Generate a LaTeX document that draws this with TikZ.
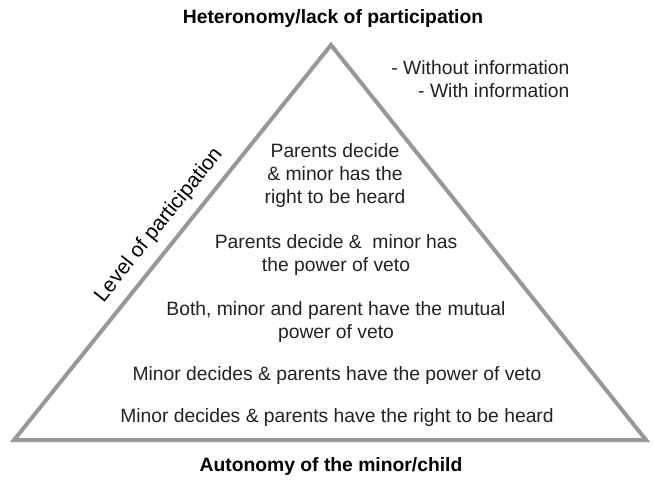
\documentclass[tikz,border=0pt]{standalone}
\usepackage{fontspec}
\setmainfont{Liberation Sans}
\usepackage{xcolor}
\usepackage{tikz}
\usetikzlibrary{positioning}

\definecolor{edgegray}{RGB}{152,152,152}
\definecolor{textgray}{RGB}{34,34,34}

\begin{document}
\begin{tikzpicture}[
    x=1pt, y=-1pt,
    every node/.style={font=\fontsize{19.3}{23}\selectfont, text=textgray},
    level/.style={align=center},
    head/.style={font=\fontsize{19.3}{23}\selectfont\bfseries, text=black},
    pyramid/.style={draw=edgegray, line width=4pt, line join=miter},
  ]
  \useasboundingbox (0,0) rectangle (655,480);

  % Corners of the pyramid
  \coordinate (left) at (14,440);
  \coordinate (right) at (646,440);
  \coordinate (apex) at (331,45);
  \draw[pyramid] (left) -- (apex) -- (right) -- cycle;

  % Axis label along the left side
  \path (left) -- node[sloped, pos=0.51, above=8pt, text=black,
    font=\fontsize{20.8}{24}\selectfont] (axis) {Level of participation} (apex);

  % Top and bottom headings
  \node[head] (top) at (333,19) {Heteronomy/lack of participation};
  \node[head] (bottom) at (331,466) {Autonomy of the minor/child};

  % Sub-cases of heteronomy
  \node[align=right, anchor=east] (info) at (573,79) {- Without information\\- With information};

  % Levels, from top to bottom
  \node[level] (heard) at (335,176) {Parents decide\\\& minor has the\\right to be heard};
  \node[level] (veto) at (336,255) {Parents decide \&~ minor has\\the power of veto};
  \node[level] (mutual) at (336,322) {Both, minor and parent have the mutual\\power of veto};
  \node[level] (minorveto) at (337,376) {Minor decides \& parents have the power of veto};
  \node[level] (minorheard) at (337,417) {Minor decides \& parents have the right to be heard};

\end{tikzpicture}
\end{document}
